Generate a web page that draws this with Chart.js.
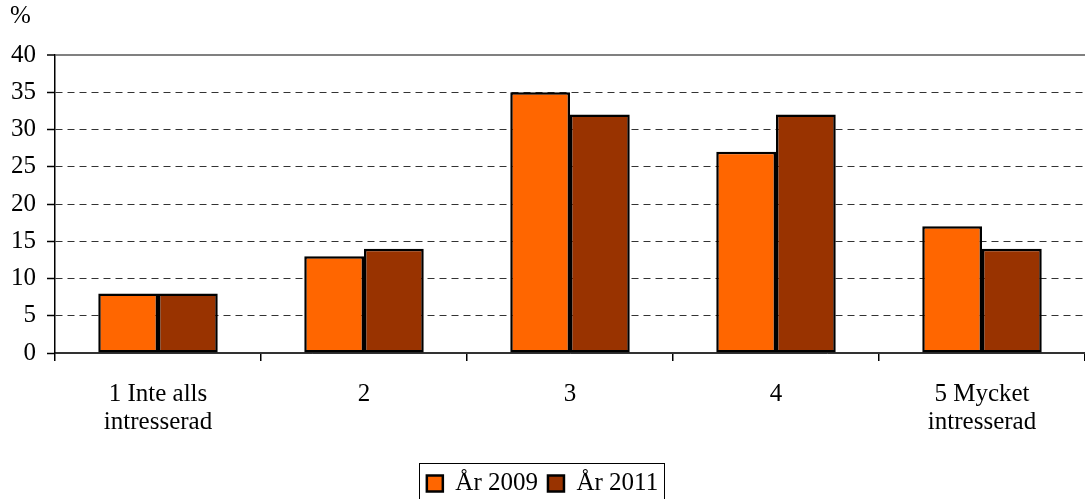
<!DOCTYPE html>
<html>
<head>
<meta charset="utf-8">
<script src="https://cdn.jsdelivr.net/npm/chart.js@4"></script>
<style>
  html, body { margin: 0; padding: 0; background: #fff; }
</style>
</head>
<body>
<canvas id="barChart" width="1085" height="499"></canvas>
<script>
const categories = [
    ['1 Inte alls', 'intresserad'],
    '2',
    '3',
    '4',
    ['5 Mycket', 'intresserad']
]
const values2009 = [8, 13, 35, 27, 17]
const values2011 = [8, 14, 32, 32, 14]
const yTicks = [0, 5, 10, 15, 20, 25, 30, 35, 40]

const serif = "'Liberation Serif', 'Times New Roman', serif"

// box round the legend + the "%" unit, like the original
const extras = {
    id: 'extras',
    afterDraw(chart) {
        const c = chart.ctx
        c.save()
        const boxes = chart.legend.legendHitBoxes
        if (boxes && boxes.length) {
            let left = Infinity, right = -Infinity, top = Infinity
            boxes.forEach(b => {
                left = Math.min(left, b.left)
                right = Math.max(right, b.left + b.width)
                top = Math.min(top, b.top)
            })
            c.strokeStyle = '#000'
            c.lineWidth = 1
            c.strokeRect(Math.round(left - 8) + 0.5, Math.round(top - 8) + 0.5, Math.round(right - left + 14), 60)
        }
        const t = chart.titleBlock
        c.fillStyle = '#000'
        c.font = '25px ' + serif
        c.textBaseline = 'middle'
        c.textAlign = 'left'
        c.fillText('%', t.left + 10, t.top + 16)
        c.restore()
    }
}

const ctx = document.getElementById('barChart').getContext('2d')

const data = {
    labels: categories,
    datasets: [{
        label: 'År 2009',
        data: values2009,
        backgroundColor: '#FF6600',
        borderColor: '#000',
        borderWidth: 2.5,
        borderSkipped: false,
    }, {
        label: 'År 2011',
        data: values2011,
        backgroundColor: '#993300',
        borderColor: '#000',
        borderWidth: 2.5,
        borderSkipped: false,
    }],
}

const config = {
    type: 'bar',
    data: data,
    options: {
        responsive: false,
        animation: false,
        categoryPercentage: 0.58,
        barPercentage: 1,
        layout: { padding: { left: 0, right: 0, top: 0, bottom: -7 } },
        plugins: {
            title: {
                display: true,
                text: '%',
                align: 'start',
                color: 'rgba(0,0,0,0)',
                font: { family: serif, size: 25, weight: 'normal' },
                padding: { top: 4, bottom: 21 },
            },
            legend: {
                position: 'bottom',
                labels: {
                    color: '#000',
                    font: { family: serif, size: 25 },
                    boxWidth: 16,
                    boxHeight: 16,
                    padding: 10,
                    generateLabels(chart) {
                        return chart.data.datasets.map((ds, i) => ({
                            text: ds.label,
                            fillStyle: ds.backgroundColor,
                            strokeStyle: '#000',
                            lineWidth: 2.5,
                            fontColor: '#000',
                            datasetIndex: i,
                        }))
                    }
                },
            },
            tooltip: { enabled: false },
        },
        scales: {
            x: {
                offset: true,
                afterFit(axis) {
                    axis.height += 6
                },
                grid: {
                    offset: true,
                    drawOnChartArea: false,
                    drawTicks: true,
                    tickLength: 8,
                    color: '#000',
                    lineWidth: 1.5,
                },
                border: { color: '#333', width: 1.5 },
                ticks: {
                    color: '#000',
                    padding: 19,
                    maxRotation: 0,
                    font: { family: serif, size: 25, lineHeight: 1.12 },
                },
            },
            y: {
                min: 0,
                max: 40,
                afterBuildTicks(axis) {
                    axis.ticks = yTicks.map(v => ({ value: v }))
                },
                grid: {
                    color: c => c.tick && c.tick.value === 40 ? '#808080' : '#333',
                    lineWidth: c => c.tick && c.tick.value === 40 ? 2 : 1,
                    tickLength: 8,
                    tickColor: '#000',
                    tickWidth: 1.5,
                },
                border: {
                    color: '#000',
                    width: 1.5,
                    dash: c => c.tick && (c.tick.value === 40 || c.tick.value === 0) ? [] : [7, 5],
                },
                ticks: {
                    color: '#000',
                    padding: 11,
                    font: { family: serif, size: 25 },
                },
            },
        },
    },
    plugins: [extras],
}

const myChart = new Chart(ctx, config)
</script>
</body>
</html>
